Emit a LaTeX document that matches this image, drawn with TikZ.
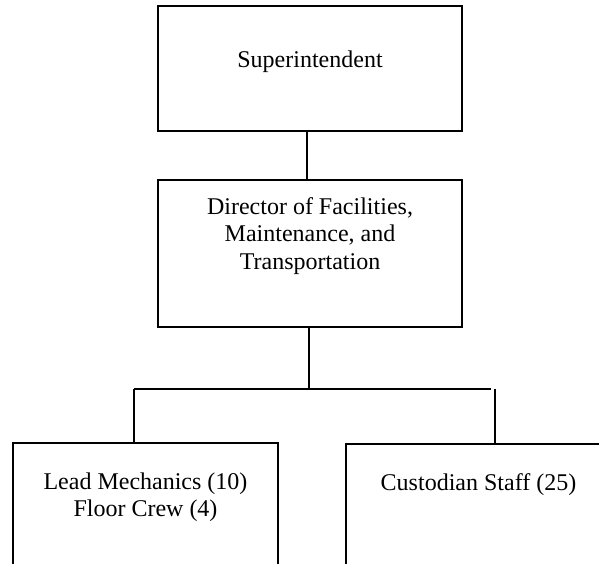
\documentclass[tikz,border=0pt]{standalone}
\usepackage{fontspec}
\setmainfont{Liberation Serif}
\usetikzlibrary{calc}
\begin{document}
\begin{tikzpicture}[x=0.5pt,y=-0.5pt,
  box/.style={draw, line width=0.6pt, rectangle, inner sep=0pt},
  txt/.style={align=center, font=\fontsize{12}{13.6}\selectfont, inner sep=0pt},
  link/.style={line width=0.6pt}]
\useasboundingbox (0,0) rectangle (599,563);
\clip (0,0) rectangle (599,563);

% boxes
\node[box, minimum width=152pt, minimum height=62.5pt] (sup) at (310,68.5) {};
\node[box, minimum width=152pt, minimum height=73.5pt] (dir) at (310,253.5) {};
\node[box, minimum width=132.5pt, minimum height=80pt] (lead) at (145.5,523) {};
\node[box, minimum width=132.5pt, minimum height=80pt] (cust) at (478.5,524) {};

% box texts
\node[txt, anchor=base] (suptext) at (310,67.5) {Superintendent};
\node[txt] (dirtext) at (310,236) {Director of Facilities,\\Maintenance, and\\Transportation};
\node[txt] (leadtext) at (145.5,497.5) {Lead Mechanics (10)\\Floor Crew (4)};
\node[txt, anchor=base] (custtext) at (478.5,490) {Custodian Staff (25)};

% connectors
\coordinate (lj) at (134,389);
\coordinate (hend) at (491,389);
\coordinate (rj) at (495,389);
\draw[link] ($(sup.south)+(-3,0)$) -- ($(dir.north)+(-3,0)$);
\draw[link] ($(dir.south)+(-1,0)$) -- ($(dir.south)+(-1,62)$);
\draw[link] (lj) -- (hend);
\draw[link] (lj) -- (lj |- lead.north);
\draw[link] (rj) -- (rj |- cust.north);
\end{tikzpicture}
\end{document}
